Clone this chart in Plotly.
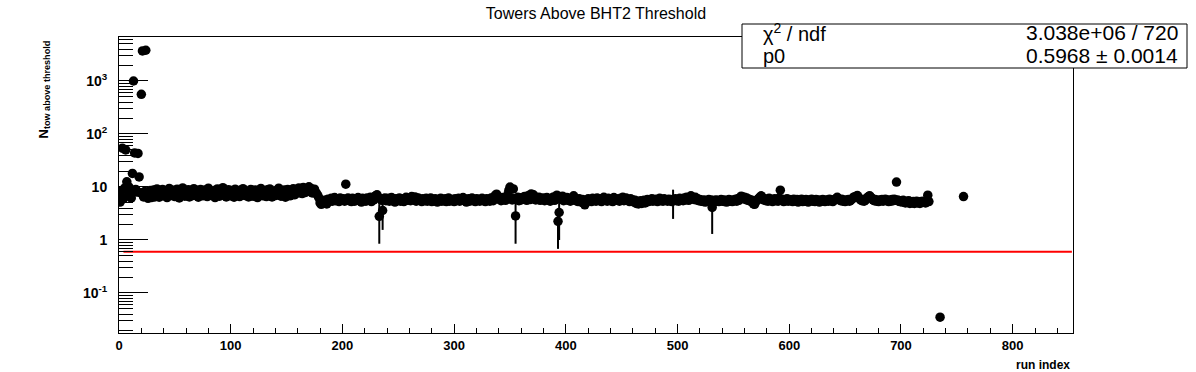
import plotly.graph_objects as go

# ---------------- text ----------------
title_text = "Towers Above BHT2 Threshold"
x_title = "run index"
y_title = "N<sub>tow above threshold</sub>"

# ---------------- data (towers above threshold per run index) ----------------
n_tow_000_099 = [
    7.0, 5.2, 8.5, 54, 6.0, 9.5, 50, 12.5, 6.8, 10.0,
    7.5, 6.2, 18, 1000, 44, 9.0, 8.0, 43, 15.5, 7.8,
    560, 3700, 6.5, 8.2, 3800, 7.0, 6.1, 7.2, 8.6, 6.3,
    7.4, 8.8, 6.5, 7.9, 9.2, 7.1, 6.4, 8.3, 7.6, 9.0,
    6.8, 7.7, 8.5, 6.3, 7.3, 9.4, 8.0, 6.9, 7.5, 8.7,
    6.6, 7.8, 9.1, 7.2, 6.2, 8.4, 7.6, 9.6, 7.0, 6.7,
    8.1, 7.4, 8.9, 6.5, 7.9, 8.3, 6.9, 9.3, 7.7, 7.1,
    8.6, 6.4, 7.5, 9.0, 8.2, 6.8, 7.3, 8.8, 7.9, 6.6,
    9.5, 7.2, 8.0, 6.9, 7.6, 8.5, 6.3, 7.8, 9.2, 7.4,
    6.7, 8.3, 7.5, 9.7, 7.0, 8.1, 6.5, 7.7, 8.9, 7.3,
]
n_tow_100_199 = [
    6.8, 8.6, 7.9, 6.4, 9.1, 7.6, 8.2, 7.0, 6.6, 8.7,
    7.4, 9.3, 7.8, 6.9, 8.0, 7.2, 6.5, 8.4, 9.0, 7.5,
    6.7, 7.9, 8.8, 7.1, 6.3, 8.5, 7.7, 9.4, 7.3, 6.8,
    8.2, 7.6, 6.6, 8.9, 7.4, 9.2, 7.0, 6.5, 8.3, 7.8,
    6.9, 8.6, 7.2, 9.5, 7.9, 6.7, 8.1, 7.5, 8.8, 6.4,
    7.7, 9.0, 7.3, 6.8, 8.4, 7.9, 9.3, 7.1, 8.6, 7.6,
    8.2, 9.6, 7.8, 8.9, 7.5, 9.8, 8.4, 7.9, 9.2, 8.7,
    10.1, 8.3, 9.4, 7.7, 8.8, 9.1, 8.0, 7.4, 6.9, 6.2,
    5.0, 4.7, 5.4, 4.9, 5.6, 5.1, 4.8, 5.9, 5.3, 5.7,
    6.1, 5.4, 5.8, 6.3, 5.5, 5.9, 6.0, 5.3, 6.2, 5.7,
]
n_tow_200_299 = [
    5.6, 6.0, 5.4, 11.3, 5.8, 6.2, 5.5, 5.9, 5.3, 6.1,
    5.7, 5.4, 6.0, 5.6, 6.3, 5.5, 5.8, 5.2, 6.1, 5.7,
    5.9, 5.4, 6.2, 5.6, 5.8, 6.4, 5.3, 6.0, 5.7, 6.6,
    6.9, 7.1, 6.3, 2.8, 6.0, 5.6, 3.6, 5.9, 6.2, 5.5,
    5.8, 6.1, 5.4, 5.7, 6.3, 5.5, 5.9, 5.2, 6.0, 5.6,
    5.8, 6.2, 5.4, 5.7, 6.0, 5.3, 5.9, 6.4, 5.6, 5.8,
    6.1, 5.5, 6.6, 6.3, 5.7, 6.5, 5.4, 5.9, 6.2, 5.6,
    5.8, 5.3, 6.0, 5.7, 5.5, 6.1, 5.4, 5.9, 5.6, 6.2,
    5.3, 5.8, 5.5, 6.0, 5.7, 5.2, 5.9, 5.6, 6.1, 5.4,
    5.8, 5.5, 6.0, 5.3, 5.7, 6.2, 5.4, 5.9, 5.6, 5.8,
]
n_tow_300_399 = [
    5.3, 6.0, 5.5, 5.7, 6.1, 5.4, 5.8, 5.6, 6.3, 5.5,
    5.9, 5.2, 5.7, 6.0, 5.4, 5.8, 6.2, 5.5, 5.7, 5.3,
    6.0, 5.6, 5.9, 5.4, 5.8, 6.1, 5.5, 5.7, 5.3, 6.0,
    5.6, 5.9, 5.4, 6.2, 5.8, 5.5, 6.6, 7.0, 7.3, 6.4,
    5.9, 6.1, 5.5, 6.3, 5.8, 6.0, 5.6, 6.5, 7.2, 8.6,
    10.0, 6.2, 5.7, 9.2, 6.0, 2.85, 5.8, 6.4, 5.5, 6.1,
    5.7, 6.3, 5.9, 6.6, 6.1, 5.6, 6.8, 6.2, 5.8, 7.4,
    6.5, 7.1, 6.0, 5.7, 6.3, 5.9, 6.4, 5.6, 6.1, 5.8,
    6.2, 5.5, 5.9, 6.3, 5.7, 6.0, 5.4, 6.1, 5.8, 6.5,
    5.6, 6.2, 7.0, 2.25, 3.3, 6.4, 5.9, 6.7, 5.5, 6.1,
]
n_tow_400_499 = [
    5.8, 6.3, 5.6, 6.0, 5.4, 6.2, 5.7, 6.8, 6.1, 5.5,
    5.9, 5.3, 6.0, 5.6, 5.2, 5.8, 4.9, 4.6, 5.4, 5.7,
    6.0, 5.5, 5.8, 5.3, 6.1, 5.6, 5.9, 5.4, 6.2, 5.7,
    5.5, 6.0, 5.3, 5.8, 6.4, 5.6, 5.9, 5.4, 6.1, 5.7,
    5.5, 5.9, 5.3, 6.3, 5.7, 6.0, 5.6, 5.8, 5.4, 6.1,
    5.7, 6.4, 5.5, 5.9, 6.2, 5.6, 5.8, 5.3, 6.0, 5.5,
    5.7, 5.2, 5.6, 4.9, 5.4, 4.8, 5.1, 5.5, 4.9, 5.3,
    5.6, 5.0, 5.4, 5.8, 5.3, 5.7, 5.5, 6.0, 5.4, 5.8,
    5.6, 5.9, 5.3, 5.7, 6.1, 5.5, 5.8, 5.4, 6.0, 5.6,
    5.7, 5.4, 5.9, 5.5, 5.8, 5.3, 5.7, 5.6, 6.0, 5.5,
]
n_tow_500_599 = [
    5.8, 5.4, 6.1, 5.6, 5.9, 5.5, 6.2, 5.7, 6.4, 6.0,
    5.6, 6.3, 6.8, 6.5, 6.1, 5.8, 6.4, 5.7, 6.0, 5.5,
    5.8, 5.4, 5.6, 5.3, 5.7, 5.2, 5.5, 5.4, 5.8, 5.3,
    5.6, 4.1, 5.5, 5.2, 5.7, 5.4, 5.6, 5.3, 5.5, 5.8,
    5.4, 5.7, 5.3, 5.6, 5.2, 5.5, 5.8, 5.4, 5.6, 5.3,
    5.7, 5.5, 5.9, 5.4, 6.0, 5.6, 6.3, 6.7, 6.5, 6.1,
    6.4, 5.8, 6.2, 5.6, 5.9, 5.4, 5.7, 5.2, 4.8, 4.7,
    5.3, 5.6, 5.9, 6.2, 6.5, 6.8, 6.1, 5.7, 6.0, 5.5,
    5.8, 5.4, 6.1, 5.6, 5.9, 5.3, 5.7, 6.0, 5.5, 5.8,
    5.4, 6.2, 8.7, 5.6, 5.9, 5.3, 5.7, 5.5, 6.0, 5.4,
]
n_tow_600_699 = [
    5.8, 5.5, 5.7, 5.3, 5.9, 5.6, 5.4, 5.8, 5.2, 5.6,
    5.5, 5.9, 5.3, 5.7, 5.4, 5.8, 5.6, 5.2, 5.7, 5.5,
    5.9, 5.4, 5.6, 5.3, 5.8, 5.5, 5.7, 5.2, 5.6, 5.4,
    5.8, 5.5, 5.3, 5.7, 5.6, 5.4, 5.9, 5.5, 5.7, 5.3,
    5.6, 5.8, 6.1, 6.4, 6.0, 5.7, 5.5, 5.9, 5.4, 5.6,
    5.3, 5.7, 5.5, 5.8, 5.4, 5.6, 5.9, 6.2, 6.5, 6.3,
    6.7, 6.9, 6.4, 6.0, 5.7, 5.5, 5.8, 5.4, 5.6, 6.0,
    6.3, 6.6, 6.8, 6.4, 6.1, 5.7, 5.5, 5.8, 5.4, 5.6,
    5.3, 5.7, 5.5, 5.8, 5.4, 5.6, 5.9, 5.5, 5.7, 5.3,
    5.6, 5.4, 5.8, 5.5, 5.9, 5.6, 12.4, 5.7, 5.4, 5.3,
]
n_tow_700_725 = [
    5.5, 5.2, 5.6, 5.3, 5.0, 5.4, 5.1, 5.5, 4.9, 5.2,
    5.0, 5.3, 4.9, 5.1, 5.4, 5.0, 5.2, 4.9, 5.3, 5.1,
    5.4, 5.2, 5.0, 5.5, 7.0, 5.3,
]
extra_run_index = [735, 756]
extra_n_tow = [0.035, 6.6]

# points whose statistical error bar is visible
err_run_index = [233, 236, 355, 393, 394, 496, 531]
err_size = [1.95, 2.05, 2.0, 1.57, 2.3, 3.2, 2.8]

# constant fit result
fit_p0 = 0.5968
fit_p0_err = 0.0014
fit_chi2 = 3.038e6
fit_ndf = 720
fit_range = [4, 853]

# axes
x_range = [0, 854]
y_range_log = [-1.755, 3.83]
y_tick_vals = [0.1, 1, 10, 100, 1000]
y_tick_text = ["10<sup>-1</sup>", "1", "10", "10<sup>2</sup>", "10<sup>3</sup>"]

# ---------------- build ----------------
main_vals = (n_tow_000_099 + n_tow_100_199 + n_tow_200_299 + n_tow_300_399 +
             n_tow_400_499 + n_tow_500_599 + n_tow_600_699 + n_tow_700_725)
run_index = list(range(len(main_vals))) + extra_run_index
n_tow = main_vals + extra_n_tow
err_map = dict(zip(err_run_index, err_size))
errors = [err_map.get(r, 0.0) for r in run_index]

FONT = "Liberation Sans, Arial, Helvetica, sans-serif"

fig = go.Figure()
fig.add_trace(go.Scatter(
    x=run_index, y=n_tow, mode="markers",
    marker=dict(symbol="circle", size=9.5, color="black", line=dict(width=0)),
    error_y=dict(type="data", array=errors, visible=True, color="black",
                 thickness=2, width=0),
    showlegend=False, hoverinfo="x+y",
))
fig.add_trace(go.Scatter(
    x=fit_range, y=[fit_p0, fit_p0], mode="lines",
    line=dict(color="#ff0000", width=2), showlegend=False,
))

minor_log = [k * 10 ** d for d in range(-2, 4) for k in range(2, 10)]

fig.update_layout(
    width=1196, height=372,
    margin=dict(l=119, r=123, t=37, b=39),
    paper_bgcolor="white", plot_bgcolor="white",
    title=dict(text=title_text, x=0.5, xanchor="center", xref="paper",
               y=1 - 13 / 372, yref="container", yanchor="middle",
               font=dict(family=FONT, size=16, color="black")),
    xaxis=dict(
        range=x_range, showgrid=False, zeroline=False,
        showline=True, linecolor="black", linewidth=1, mirror=True,
        ticks="inside", ticklen=9, tickwidth=1, tickcolor="black",
        tick0=0, dtick=100,
        minor=dict(dtick=20, tick0=0, ticks="inside", ticklen=5,
                   tickcolor="black", tickwidth=1, showgrid=False),
        tickfont=dict(family=FONT, size=13, color="black", weight="bold"),
    ),
    yaxis=dict(
        type="log", range=y_range_log, showgrid=False, zeroline=False,
        showline=True, linecolor="black", linewidth=1, mirror=True,
        ticks="inside", ticklen=29, tickwidth=1, tickcolor="black",
        tickmode="array", tickvals=y_tick_vals, ticktext=y_tick_text,
        minor=dict(tickmode="array", tickvals=minor_log, ticks="inside",
                   ticklen=14, tickcolor="black", tickwidth=1, showgrid=False),
        tickfont=dict(family=FONT, size=14, color="black", weight="bold"),
        ticklabelstandoff=8,
    ),
)

# axis titles (ROOT style placement)
fig.add_annotation(text=y_title, xref="paper", yref="paper",
                   x=(44 - 119) / 954, y=(333 - 89.5) / 296,
                   textangle=-90, showarrow=False,
                   xanchor="center", yanchor="middle",
                   font=dict(family=FONT, size=13, color="black", weight="bold"))
fig.add_annotation(text=x_title, xref="paper", yref="paper",
                   x=(1072 - 119) / 954, y=(333 - 365) / 296,
                   showarrow=False, xanchor="right", yanchor="middle",
                   font=dict(family=FONT, size=12, color="black", weight="bold"))

# fit statistics box
fig.add_shape(type="rect", xref="paper", yref="paper",
              x0=(742 - 119) / 954, x1=(1187 - 119) / 954,
              y0=(333 - 68) / 296, y1=(333 - 24) / 296,
              line=dict(color="black", width=1), fillcolor="white", layer="above")
row_y = [(333 - 32.5) / 296, (333 - 56) / 296]
left_txt = ["\u03c7<sup>2</sup> / ndf", "p0"]
right_txt = [f"{fit_chi2:.3e} / {fit_ndf}", f"{fit_p0:.4f} \u00b1 {fit_p0_err:.4f}"]
for yy, lt, rt in zip(row_y, left_txt, right_txt):
    fig.add_annotation(text=lt, xref="paper", yref="paper",
                       x=(761 - 119) / 954, y=yy, xanchor="left", yanchor="middle",
                       showarrow=False, font=dict(family=FONT, size=20, color="black"))
    fig.add_annotation(text=rt, xref="paper", yref="paper",
                       x=(1180 - 119) / 954, y=yy, xanchor="right", yanchor="middle",
                       showarrow=False, font=dict(family=FONT, size=21, color="black"))

fig.write_html("out.html",
               config={"displayModeBar": False},
               post_script="document.body.style.margin='0';document.body.style.padding='0';")
